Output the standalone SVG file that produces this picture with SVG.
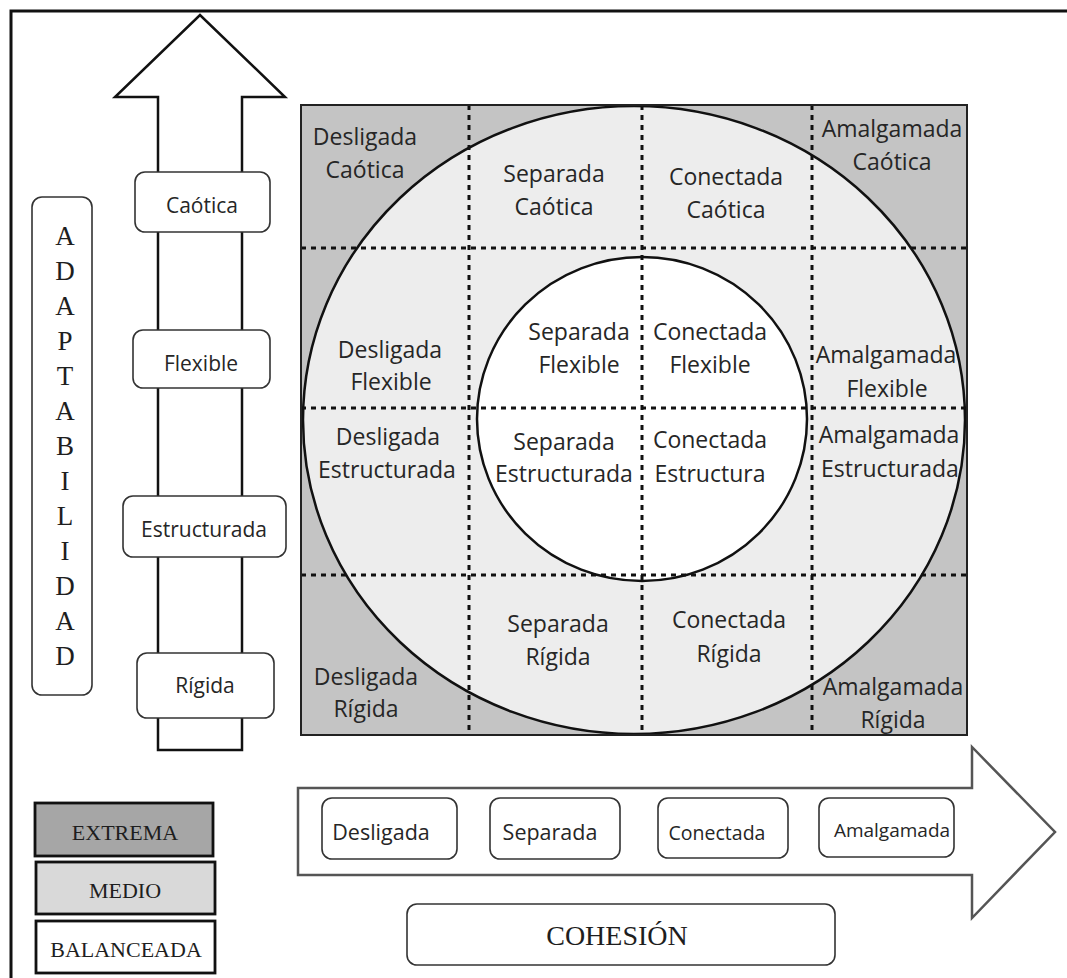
<svg xmlns="http://www.w3.org/2000/svg" width="1067" height="978" viewBox="0 0 1067 978">
<defs>
<style>
.frame{fill:#fff;stroke:#111;stroke-width:3}
.box{fill:#fff;stroke:#333;stroke-width:1.6}
.t{font-family:"Open Sans","Noto Sans",sans-serif;fill:#262626;text-anchor:middle}
.g{font-size:23px}
.lab{font-size:21px}
.serif{font-family:"Liberation Serif","Times New Roman",serif;fill:#1e1e1e;text-anchor:middle}
.dash{stroke:#111;stroke-width:3;stroke-dasharray:5 5;fill:none}
.ell{stroke:#111;stroke-width:2.5}
.leg{stroke:#111;stroke-width:2.8}
</style>
</defs>
<rect width="1067" height="978" fill="#fff"/>
<rect class="frame" x="11" y="11" width="1080" height="990"/>

<g id="axes">
  <path id="arrow-up" d="M158,750 L158,97 L115,97 L200,15 L285,97 L242,97 L242,750 Z" fill="#fff" stroke="#111" stroke-width="2.5" stroke-linejoin="miter"/>
  <path id="arrow-right" d="M298,788 L972,788 L972,747 L1055,832 L972,918 L972,875 L298,875 Z" fill="#fff" stroke="#555" stroke-width="2.5"/>
</g>

<g id="grid">
  <rect x="301" y="105" width="666" height="630" fill="#c4c4c4"/>
  <ellipse cx="634" cy="420" rx="331" ry="314" fill="#ededed" class="ell"/>
  <ellipse cx="642" cy="419" rx="165" ry="162" fill="#fff" class="ell"/>
  <g class="dash">
    <line x1="469" y1="105" x2="469" y2="735"/>
    <line x1="642" y1="105" x2="642" y2="735"/>
    <line x1="812" y1="105" x2="812" y2="735"/>
    <line x1="301" y1="248" x2="967" y2="248"/>
    <line x1="301" y1="408" x2="967" y2="408"/>
    <line x1="301" y1="575" x2="967" y2="575"/>
  </g>
  <rect x="301" y="105" width="666" height="630" fill="none" stroke="#222" stroke-width="2"/>
</g>

<g id="cell-desligada-caotica"><text class="t g" x="365" y="145">Desligada</text><text class="t g" x="365" y="178">Caótica</text></g>
<g id="cell-separada-caotica"><text class="t g" x="554" y="182">Separada</text><text class="t g" x="554" y="215">Caótica</text></g>
<g id="cell-conectada-caotica"><text class="t g" x="726" y="185">Conectada</text><text class="t g" x="726" y="218">Caótica</text></g>
<g id="cell-amalgamada-caotica"><text class="t g" x="892" y="137">Amalgamada</text><text class="t g" x="892" y="170">Caótica</text></g>

<g id="cell-desligada-flexible"><text class="t g" x="390" y="358">Desligada</text><text class="t g" x="391" y="390">Flexible</text></g>
<g id="cell-separada-flexible"><text class="t g" x="579" y="340">Separada</text><text class="t g" x="579" y="373">Flexible</text></g>
<g id="cell-conectada-flexible"><text class="t g" x="710" y="340">Conectada</text><text class="t g" x="710" y="373">Flexible</text></g>
<g id="cell-amalgamada-flexible"><text class="t g" x="886" y="363">Amalgamada</text><text class="t g" x="887" y="397">Flexible</text></g>

<g id="cell-desligada-estructurada"><text class="t g" x="388" y="445">Desligada</text><text class="t g" x="387" y="478">Estructurada</text></g>
<g id="cell-separada-estructurada"><text class="t g" x="564" y="450">Separada</text><text class="t g" x="564" y="482">Estructurada</text></g>
<g id="cell-conectada-estructura"><text class="t g" x="710" y="448">Conectada</text><text class="t g" x="710" y="482">Estructura</text></g>
<g id="cell-amalgamada-estructurada"><text class="t g" x="889" y="443">Amalgamada</text><text class="t g" x="890" y="477">Estructurada</text></g>

<g id="cell-desligada-rigida"><text class="t g" x="366" y="685">Desligada</text><text class="t g" x="366" y="717">Rígida</text></g>
<g id="cell-separada-rigida"><text class="t g" x="558" y="632">Separada</text><text class="t g" x="558" y="665">Rígida</text></g>
<g id="cell-conectada-rigida"><text class="t g" x="729" y="628">Conectada</text><text class="t g" x="729" y="662">Rígida</text></g>
<g id="cell-amalgamada-rigida"><text class="t g" x="893" y="695">Amalgamada</text><text class="t g" x="893" y="728">Rígida</text></g>

<g id="label-adaptabilidad">
  <rect class="box" x="32" y="197" width="60" height="498" rx="10"/>
  <g class="serif" font-size="27">
    <text x="65" y="245">A</text><text x="65" y="280">D</text><text x="65" y="315">A</text>
    <text x="65" y="350">P</text><text x="65" y="385">T</text><text x="65" y="420">A</text>
    <text x="65" y="455">B</text><text x="65" y="490">I</text><text x="65" y="525">L</text>
    <text x="65" y="560">I</text><text x="65" y="595">D</text><text x="65" y="630">A</text>
    <text x="65" y="665">D</text>
  </g>
</g>

<g id="level-caotica"><rect class="box" x="135" y="172" width="135" height="60" rx="10"/><text class="t lab" x="202" y="213">Caótica</text></g>
<g id="level-flexible"><rect class="box" x="133" y="330" width="137" height="58" rx="10"/><text class="t lab" x="201" y="371">Flexible</text></g>
<g id="level-estructurada"><rect class="box" x="123" y="496" width="163" height="61" rx="10"/><text class="t lab" x="204" y="537">Estructurada</text></g>
<g id="level-rigida"><rect class="box" x="137" y="653" width="137" height="65" rx="10"/><text class="t lab" x="205" y="693">Rígida</text></g>

<g id="coh-desligada"><rect class="box" x="322" y="798" width="135" height="61" rx="10"/><text class="t" font-size="21.5" x="381" y="840">Desligada</text></g>
<g id="coh-separada"><rect class="box" x="490" y="798" width="130" height="61" rx="10"/><text class="t" font-size="21.5" x="550" y="840">Separada</text></g>
<g id="coh-conectada"><rect class="box" x="658" y="798" width="130" height="60" rx="10"/><text class="t" font-size="19.5" x="717" y="840">Conectada</text></g>
<g id="coh-amalgamada"><rect class="box" x="819" y="798" width="135" height="59" rx="10"/><text class="t" font-size="19" x="892" y="837">Amalgamada</text></g>

<g id="label-cohesion"><rect class="box" x="407" y="904" width="428" height="61" rx="10"/><text class="serif" font-size="28" x="617" y="945">COHESIÓN</text></g>

<g id="legend-extrema"><rect class="leg" x="35" y="803" width="178" height="53" fill="#a6a6a6"/><text class="serif" font-size="22" x="125" y="840">EXTREMA</text></g>
<g id="legend-medio"><rect class="leg" x="36" y="862" width="179" height="52" fill="#d9d9d9"/><text class="serif" font-size="22" x="125" y="898">MEDIO</text></g>
<g id="legend-balanceada"><rect class="leg" x="36" y="921" width="179" height="52" fill="#fff"/><text class="serif" font-size="22" x="126" y="957">BALANCEADA</text></g>
</svg>
